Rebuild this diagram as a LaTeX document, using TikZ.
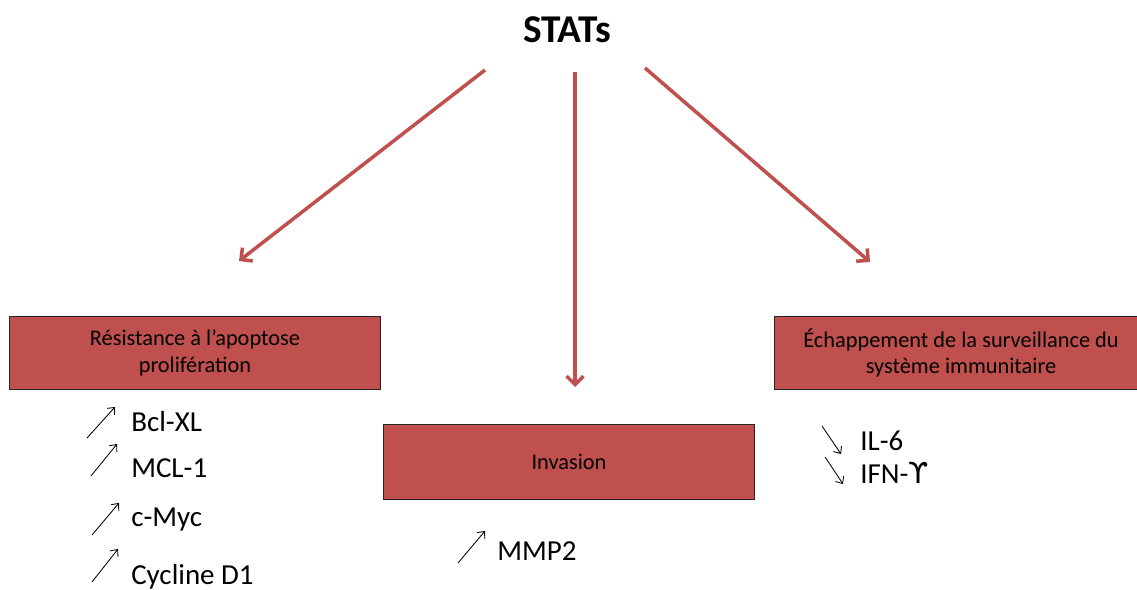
\documentclass[tikz,border=0pt]{standalone}
\usepackage{fontspec}
\setmainfont{Carlito}
\newfontfamily\symfont{DejaVu Sans}
\usetikzlibrary{arrows.meta}
\definecolor{boxred}{HTML}{C0504D}

\begin{document}
\begin{tikzpicture}[%
x=0.025cm, y=-0.025cm,
>={Straight Barb[length=6pt,width=12pt]},
box/.style={draw=black!85, line width=0.7pt, fill=boxred, align=center,
  font=\fontsize{15.9}{19}\selectfont},
link/.style={->, draw=boxred, line width=2.5pt},
gene/.style={anchor=west, inner sep=0pt, font=\fontsize{20.6}{22}\selectfont},
up/.style={-{Straight Barb[length=4pt,width=7pt]}, line width=0.6pt},
down/.style={-{Straight Barb[length=4pt,width=7pt]}, line width=0.6pt}
]

\clip (0,0) rectangle (1137,590);

\node[font=\fontsize{28}{32}\selectfont\bfseries] (stats) at (567,30) {STATs};

\node[box, minimum width=9.25cm, minimum height=1.8cm] (apop) at (195,353)
  {R\'esistance \`a l'apoptose\\prolif\'eration};
\node[box, minimum width=9.25cm, minimum height=1.85cm] (inv) at (569,462) {Invasion};
\node[box, minimum width=9.3cm, minimum height=1.8cm] (immu) at (961,353)
  {\'Echappement de la surveillance du\\syst\`eme immunitaire};

% start and end of the red arrows
\coordinate (s1) at (485,70);
\coordinate (e1) at (239,261);
\coordinate (s2) at (575,72);
\coordinate (e2) at (575,387);
\coordinate (s3) at (645,68);
\coordinate (e3) at (870,262);

\draw[link] (s1) -- (e1);
\draw[link] (s2) -- (e2);
\draw[link] (s3) -- (e3);

% genes
\node[gene] (bcl) at (131,422) {Bcl-XL};
\node[gene] (mcl) at (131,468) {MCL-1};
\node[gene] (myc) at (131,520) {c-Myc};
\node[gene] (cyc) at (131,577) {Cycline D1};
\node[gene] (mmp) at (497,551) {MMP2};
\node[gene] (il6) at (860,441) {IL-6};
\node[gene] (ifn) at (860,473) {IFN-{\symfont ϒ}};

\draw[up] ([xshift=-44*0.025cm, yshift=-16*0.025cm]bcl.west) -- ++(28,-31);
\draw[up] ([xshift=-40*0.025cm, yshift=-8*0.025cm]mcl.west) -- ++(26,-32);
\draw[up] ([xshift=-39*0.025cm, yshift=-15*0.025cm]myc.west) -- ++(27,-32);
\draw[up] ([xshift=-39*0.025cm, yshift=-5*0.025cm]cyc.west) -- ++(26,-33);
\draw[up] ([xshift=-39*0.025cm, yshift=-12*0.025cm]mmp.west) -- ++(27,-32);
\draw[down] ([xshift=-38*0.025cm, yshift=15*0.025cm]il6.west) -- ++(19,28);
\draw[down] ([xshift=-35*0.025cm, yshift=16*0.025cm]ifn.west) -- ++(18,27);

\end{tikzpicture}
\end{document}
